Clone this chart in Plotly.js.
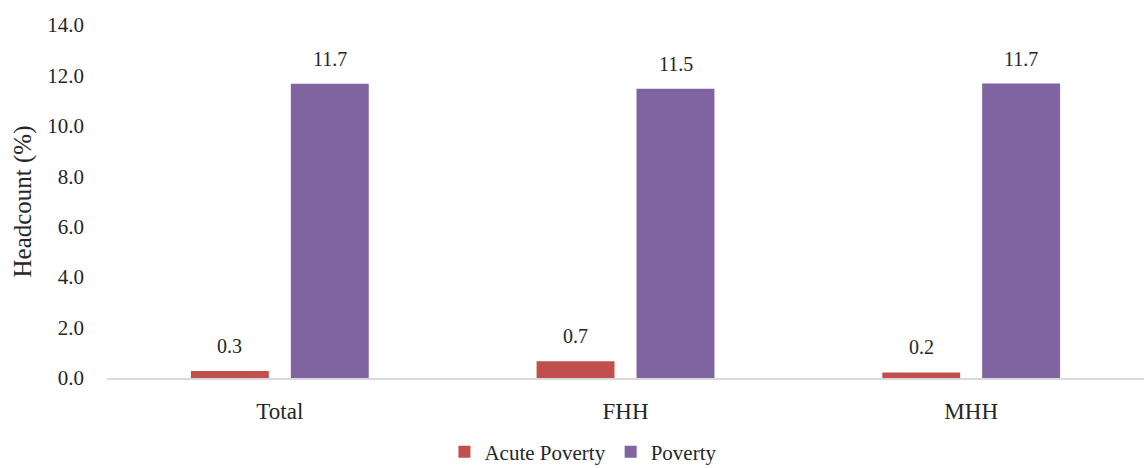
<!DOCTYPE html>
<html>
<head>
<meta charset="utf-8">
<script src="https://cdn.plot.ly/plotly-3.0.1.min.js"></script>
<style>html,body{margin:0;padding:0;background:#fff;}#chart{width:1144px;height:468px;}</style>
</head>
<body>
<div id="chart"></div>
<script>
const categories = ["Total", "FHH", "MHH"];
const acutePoverty = [0.28, 0.66, 0.22];
const poverty = [11.67, 11.47, 11.68];
const yTicks = [0, 2, 4, 6, 8, 10, 12, 14];

const FONT = "Liberation Serif";
const RED = "#C0504D", PURPLE = "#8064A2";

const traces = [
  {type: "bar", name: "Acute Poverty", x: categories, y: acutePoverty, marker: {color: RED}, hoverinfo: "none"},
  {type: "bar", name: "Poverty", x: categories, y: poverty, marker: {color: PURPLE}, hoverinfo: "none"}
];

const annotations = [];
[[acutePoverty, -50], [poverty, 50]].forEach(([vals, dx]) => {
  vals.forEach((v, i) => {
    annotations.push({x: categories[i], y: v, xref: "x", yref: "y", text: v.toFixed(1),
      showarrow: false, xshift: dx, yshift: 25, yanchor: "middle",
      font: {family: FONT, size: 20, color: "#262626"}});
  });
});

const layout = {
  width: 1144, height: 468,
  margin: {l: 107, r: 0, t: 25, b: 90},
  paper_bgcolor: "#fff", plot_bgcolor: "#fff",
  barmode: "group", bargap: 0.422, bargroupgap: 0.22,
  font: {family: FONT, size: 20, color: "#262626"},
  showlegend: true,
  legend: {orientation: "h", xref: "container", yref: "container", x: 0.51, xanchor: "center", y: 0.034, yanchor: "middle",
    font: {family: FONT, size: 21, color: "#262626"}, itemwidth: 30, traceorder: "normal"},
  xaxis: {showline: true, linecolor: "#d9d9d9", linewidth: 1.5, ticks: "", showgrid: false, zeroline: false,
    ticklabelstandoff: 12,
    tickfont: {family: FONT, size: 23, color: "#262626"}},
  yaxis: {range: [0, 14], tickvals: yTicks, ticktext: yTicks.map(t => t.toFixed(1)), showgrid: false, zeroline: false,
    showline: false, ticks: "", ticklabelstandoff: 22,
    tickfont: {family: FONT, size: 21, color: "#262626"},
    title: {text: "Headcount (%)", font: {family: FONT, size: 25, color: "#262626"}, standoff: 8}},
  annotations: annotations
};

Plotly.newPlot("chart", traces, layout, {displayModeBar: false, staticPlot: true});
</script>
</body>
</html>
